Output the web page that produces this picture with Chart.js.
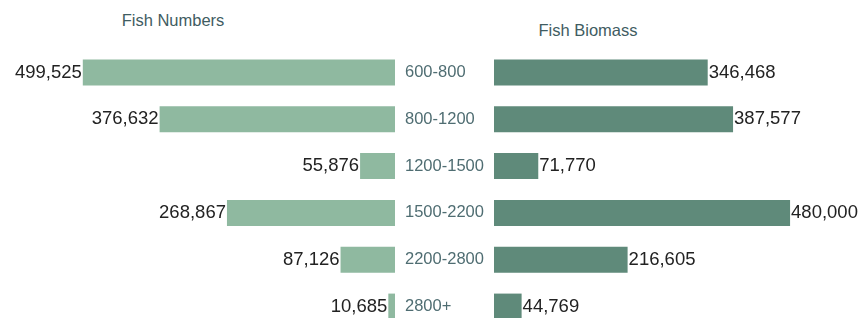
<!DOCTYPE html>
<html>
<head>
<meta charset="utf-8">
<script src="https://cdn.jsdelivr.net/npm/chart.js@4"></script>
<style>
  html, body { margin: 0; padding: 0; background: #fff; width: 861px; height: 318px; overflow: hidden; }
  #wrap { position: relative; width: 861px; height: 318px; }
  canvas { position: absolute; }
  .title { position: absolute; font-family: "Liberation Sans", Arial, sans-serif; font-size: 16.5px; color: #3f5c62; text-align: center; line-height: 20px; }
</style>
</head>
<body>
<div id="wrap">
  <div class="title" style="left:73px; top:10px; width:200px;">Fish Numbers</div>
  <div class="title" style="left:488px; top:20px; width:200px;">Fish Biomass</div>
  <canvas id="numbers" width="395" height="281" style="left:0; top:49px;"></canvas>
  <canvas id="biomass" width="466" height="281" style="left:395px; top:49px;"></canvas>
</div>
<script>
const sizeClasses = ['600-800', '800-1200', '1200-1500', '1500-2200', '2200-2800', '2800+'];
const fishNumbers = [499525, 376632, 55876, 268867, 87126, 10685];
const fishBiomass = [346468, 387577, 71770, 480000, 216605, 44769];

const FONT = '"Liberation Sans", Arial, sans-serif';

// writes the value next to the end of each bar
const valueLabels = {
  id: 'valueLabels',
  afterDatasetsDraw(chart, args, opts) {
    const ctx = chart.ctx;
    const meta = chart.getDatasetMeta(0);
    const data = chart.data.datasets[0].data;
    ctx.save();
    ctx.font = '18.5px ' + FONT;
    ctx.fillStyle = '#222';
    ctx.textBaseline = 'middle';
    ctx.textAlign = opts.side === 'left' ? 'right' : 'left';
    meta.data.forEach((bar, i) => {
      const x = opts.side === 'left' ? bar.x - 1 : bar.x + 1;
      ctx.fillText(data[i].toLocaleString('en-US'), x, bar.y);
    });
    ctx.restore();
  }
};

new Chart(document.getElementById('numbers'), {
  type: 'bar',
  data: {
    labels: sizeClasses,
    datasets: [{
      data: fishNumbers,
      backgroundColor: '#8fb9a0',
      categoryPercentage: 1,
      barPercentage: 0.555
    }]
  },
  options: {
    indexAxis: 'y',
    responsive: false,
    animation: false,
    devicePixelRatio: 1,
    layout: { padding: 0 },
    plugins: {
      legend: { display: false },
      tooltip: { enabled: false },
      valueLabels: { side: 'left' }
    },
    scales: {
      x: { display: false, reverse: true, min: 0, max: 632000 },
      y: { display: false }
    }
  },
  plugins: [valueLabels]
});

new Chart(document.getElementById('biomass'), {
  type: 'bar',
  data: {
    labels: sizeClasses,
    datasets: [{
      data: fishBiomass,
      backgroundColor: '#5f8a7a',
      categoryPercentage: 1,
      barPercentage: 0.555
    }]
  },
  options: {
    indexAxis: 'y',
    responsive: false,
    animation: false,
    devicePixelRatio: 1,
    layout: { padding: { left: 10, right: 0, top: 0, bottom: 0 } },
    plugins: {
      legend: { display: false },
      tooltip: { enabled: false },
      valueLabels: { side: 'right' }
    },
    scales: {
      x: { display: false, min: 0, max: 595000 },
      y: {
        grid: { display: false },
        border: { display: false },
        afterFit: (scale) => {
          scale.width = 89;
          scale.paddingTop = 0;
          scale.paddingBottom = 0;
        },
        ticks: {
          autoSkip: false,
          crossAlign: 'far',
          padding: 0,
          color: '#4f6d72',
          font: { family: FONT, size: 16.5 }
        }
      }
    }
  },
  plugins: [valueLabels]
});
</script>
</body>
</html>
